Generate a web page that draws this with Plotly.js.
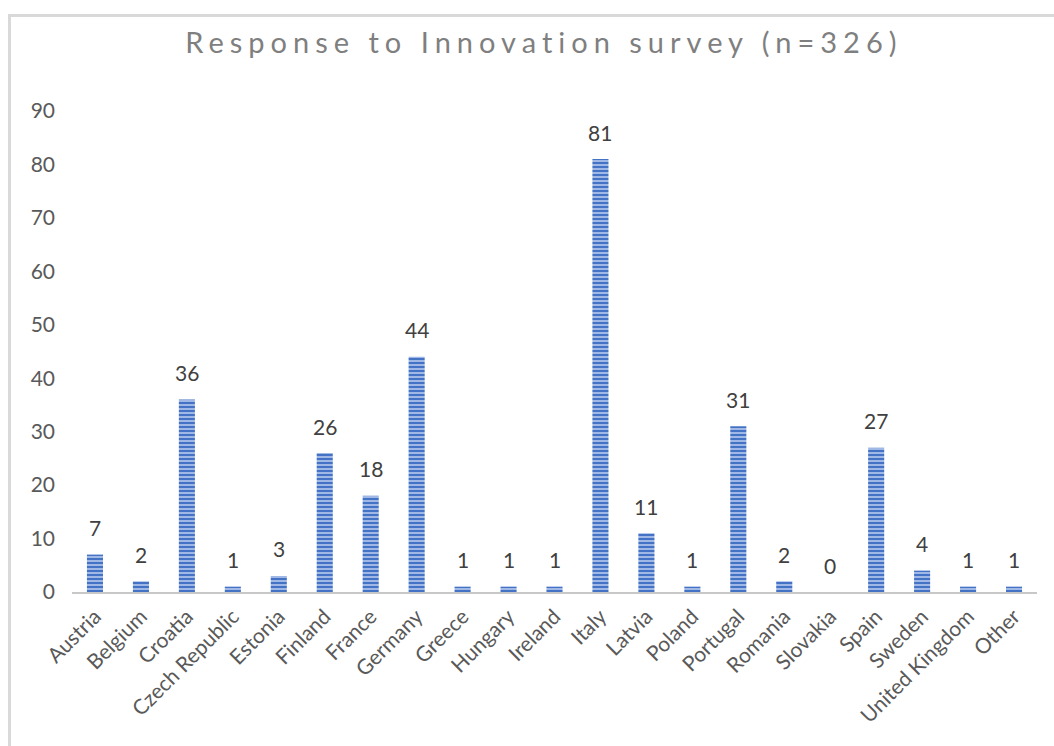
<!DOCTYPE html>
<html>
<head>
<meta charset="utf-8">
<script src="https://cdn.plot.ly/plotly-3.0.1.min.js"></script>
<style>
  html, body { margin: 0; padding: 0; background: #ffffff; }
  #frame { position: absolute; left: 8px; top: 14px; width: 1046px; height: 732px;
           border-left: 3px solid #d9d9d9; border-top: 3px solid #d9d9d9; pointer-events: none; z-index: 5; }
  #chart { position: absolute; left: 0; top: 0; width: 1054px; height: 746px; }
  .gtitle { letter-spacing: 6px; }
</style>
</head>
<body>
<div id="chart"></div>
<div id="frame"></div>
<script>
const countries = ["Austria", "Belgium", "Croatia", "Czech Republic", "Estonia", "Finland", "France", "Germany",
  "Greece", "Hungary", "Ireland", "Italy", "Latvia", "Poland", "Portugal", "Romania", "Slovakia", "Spain",
  "Sweden", "United Kingdom", "Other"];
const responses = [7, 2, 36, 1, 3, 26, 18, 44, 1, 1, 1, 81, 11, 1, 31, 2, 0, 27, 4, 1, 1];
const yTicks = [0, 10, 20, 30, 40, 50, 60, 70, 80, 90];
const chartTitle = "Response to Innovation survey (n=326)";

const FONT = "Lato, 'Open Sans', sans-serif";

const trace = {
  type: "bar",
  x: countries,
  y: responses,
  marker: {
    color: "#4472C4",
    line: { width: 0 },
    pattern: { shape: "-", fgcolor: "#a9c0ea", bgcolor: "#4472C4", size: 4, solidity: 0.45 }
  },
  hoverinfo: "x+y"
};

const annotations = countries.map((c, i) => ({
  x: c, y: responses[i], xref: "x", yref: "y",
  text: String(responses[i]), showarrow: false,
  yanchor: "middle", yshift: 27,
  font: { family: FONT, size: 21, color: "#404040" }
}));

const layout = {
  width: 1054, height: 746,
  margin: { l: 72, r: 17, t: 111, b: 154 },
  paper_bgcolor: "rgba(0,0,0,0)",
  plot_bgcolor: "rgba(0,0,0,0)",
  showlegend: false,
  bargap: 0.65,
  title: {
    text: chartTitle,
    x: 0.516, xanchor: "center",
    y: 0.942, yanchor: "middle",
    font: { family: FONT, size: 29, color: "#7f7f7f" }
  },
  xaxis: {
    type: "category",
    tickangle: -45,
    showline: true, linecolor: "#c8c8c8", linewidth: 2,
    showgrid: false, zeroline: false, ticks: "",
    ticklabelstandoff: 2,
    tickfont: { family: FONT, size: 21, color: "#595959" }
  },
  yaxis: {
    range: [0, 90],
    tickvals: yTicks,
    showline: false, showgrid: false, zeroline: false, ticks: "",
    ticklabelstandoff: 16,
    tickfont: { family: FONT, size: 21, color: "#595959" }
  },
  annotations: annotations
};

Plotly.newPlot("chart", [trace], layout, { displayModeBar: false, staticPlot: true });
</script>
</body>
</html>
